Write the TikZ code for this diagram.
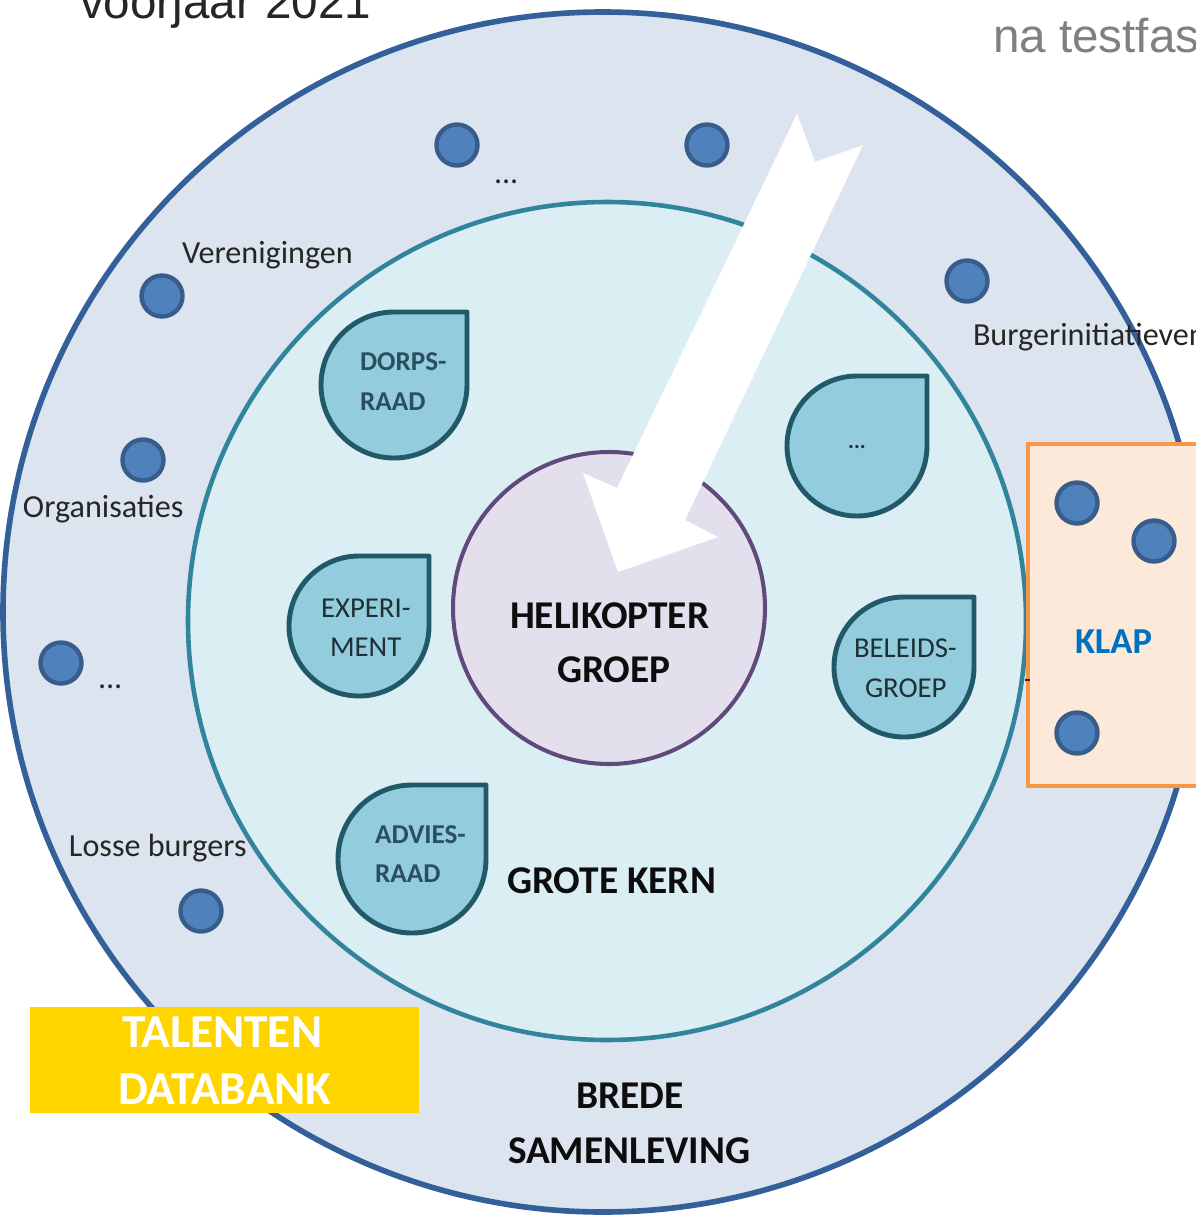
\documentclass[tikz,border=0pt]{standalone}
\usepackage{fontspec}
\setmainfont{Carlito}
\newfontfamily\arialf{Liberation Sans}
\definecolor{outerfill}{HTML}{DCE4F0}
\definecolor{outerline}{HTML}{34609A}
\definecolor{innerfill}{HTML}{DBEEF3}
\definecolor{innerline}{HTML}{31849B}
\definecolor{helifill}{HTML}{E4DFEC}
\definecolor{heliline}{HTML}{604A7B}
\definecolor{tearfill}{HTML}{93CDDD}
\definecolor{tearline}{HTML}{215968}
\definecolor{dotfill}{HTML}{4F81BD}
\definecolor{dotline}{HTML}{385D8A}
\definecolor{klapfill}{HTML}{FDE9D9}
\definecolor{klapline}{HTML}{F79646}
\definecolor{klaptext}{HTML}{0070C0}
\definecolor{gold}{HTML}{FFD500}
\definecolor{labeltext}{HTML}{262626}
\definecolor{teartextb}{HTML}{2B4F5E}
\definecolor{teartextr}{HTML}{1F2F36}
\newcommand{\teardrop}[3]{%
  \draw[tearbox] ({#1},{#2-#3}) -- ({#1+#3},{#2-#3}) -- ({#1+#3},{#2})
    arc[start angle=0,end angle=270,radius=#3] -- cycle;}
\tikzset{
  tearbox/.style={fill=tearfill,draw=tearline,line width=2.8pt,line join=round},
  dotnode/.style={circle,fill=dotfill,draw=dotline,line width=2.5pt,minimum size=0.82cm,inner sep=0pt},
  txt/.style={anchor=base west,inner sep=0pt,outer sep=0pt},
  label/.style={txt,text=labeltext,font=\fontsize{18.3}{22}\selectfont},
  bigbold/.style={txt,text=black!95,font=\fontsize{22.4}{27}\selectfont\bfseries},
  tearb/.style={txt,text=teartextb,font=\fontsize{15.5}{19}\selectfont\bfseries},
  tearr/.style={txt,text=teartextr,font=\fontsize{16.4}{20}\selectfont},
  goldtext/.style={txt,text=white,font=\fontsize{26.9}{31}\selectfont\bfseries},
}
\begin{document}
\begin{tikzpicture}[x=0.02cm,y=-0.02cm]
\useasboundingbox (0,0) rectangle (1196,1215);
\clip (0,0) rectangle (1196,1215);
\fill[white] (0,0) rectangle (1196,1215);
% rings
\draw[fill=outerfill,draw=outerline,line width=3.2pt] (603,612) circle[radius=600];
\draw[fill=innerfill,draw=innerline,line width=2.6pt] (607,621) circle[radius=419];
\draw[fill=helifill,draw=heliline,line width=2.3pt] (609,608) circle[radius=156];
% teardrops
\teardrop{394}{385}{73}
\teardrop{857}{446}{70}
\teardrop{359}{626}{70}
\teardrop{904}{667}{70}
\teardrop{412}{859}{74}
% outer dots
\node[dotnode] (d1) at (457,145) {};
\node[dotnode] (d2) at (707,145) {};
\node[dotnode] (d3) at (967,281) {};
\node[dotnode] (d4) at (162,296) {};
\node[dotnode] (d5) at (143,460) {};
\node[dotnode] (d6) at (61,663) {};
\node[dotnode] (d7) at (201,911) {};
% arrow
\fill[white] (797,114) -- (815,162) -- (863,145) -- (685,520) -- (718,537)
  -- (618,572) -- (583,473) -- (617,488) -- cycle;
% KLAP box
\draw[fill=klapfill,draw=klapline,line width=1.8pt] (1028,444) rectangle (1215,786);
\node[dotnode] (k1) at (1077,503) {};
\node[dotnode] (k2) at (1154,541) {};
\node[dotnode] (k3) at (1077,733) {};
\draw[line width=1pt,labeltext] (1025,680) -- (1030,680);
\node[txt,text=klaptext,font=\fontsize{20.8}{25}\selectfont\bfseries] (klap) at (1075,653) {KLAP};
% talenten box
\fill[gold] (30,1007) rectangle (419,1113);
\node[goldtext] (tal1) at (122,1047) {TALENTEN};
\node[goldtext] (tal2) at (118,1104) {DATABANK};
% headings
\node[txt,text=labeltext,font=\arialf\fontsize{27.1}{30}\selectfont] (voorjaar) at (80,18) {voorjaar 2021};
\node[txt,text=black!50,font=\arialf\fontsize{27.1}{30}\selectfont] (testfase) at (993,52) {na testfase};
% outer labels
\node[label] (dotsA) at (494,183) {...};
\node[label] (ver) at (182,263) {Verenigingen};
\node[label] (burg) at (973,345) {Burgerinitiatieven};
\node[label] (org) at (23,517) {Organisaties};
\node[label] (dotsB) at (98,688) {...};
\node[label] (losse) at (69,856) {Losse burgers};
% teardrop texts
\node[tearb] (dorps1) at (360,370) {DORPS-};
\node[tearb] (dorps2) at (360,410) {RAAD};
\node[anchor=center,inner sep=0pt,text=teartextr,font=\fontsize{12.5}{15}\selectfont\bfseries] (dotsC) at (857,447) {...};
\node[tearr] (exp1) at (321,617) {EXPERI-};
\node[tearr] (exp2) at (330,656) {MENT};
\node[tearr] (bel1) at (854,657) {BELEIDS-};
\node[tearr] (bel2) at (865,697) {GROEP};
\node[tearb] (adv1) at (375,843) {ADVIES-};
\node[tearb] (adv2) at (375,882) {RAAD};
% big labels
\node[bigbold] (heli1) at (510,628) {HELIKOPTER};
\node[bigbold] (heli2) at (557,682) {GROEP};
\node[bigbold] (kern) at (507,893) {GROTE KERN};
\node[bigbold] (brede1) at (576,1108) {BREDE};
\node[bigbold] (brede2) at (508,1163) {SAMENLEVING};
\end{tikzpicture}
\end{document}
